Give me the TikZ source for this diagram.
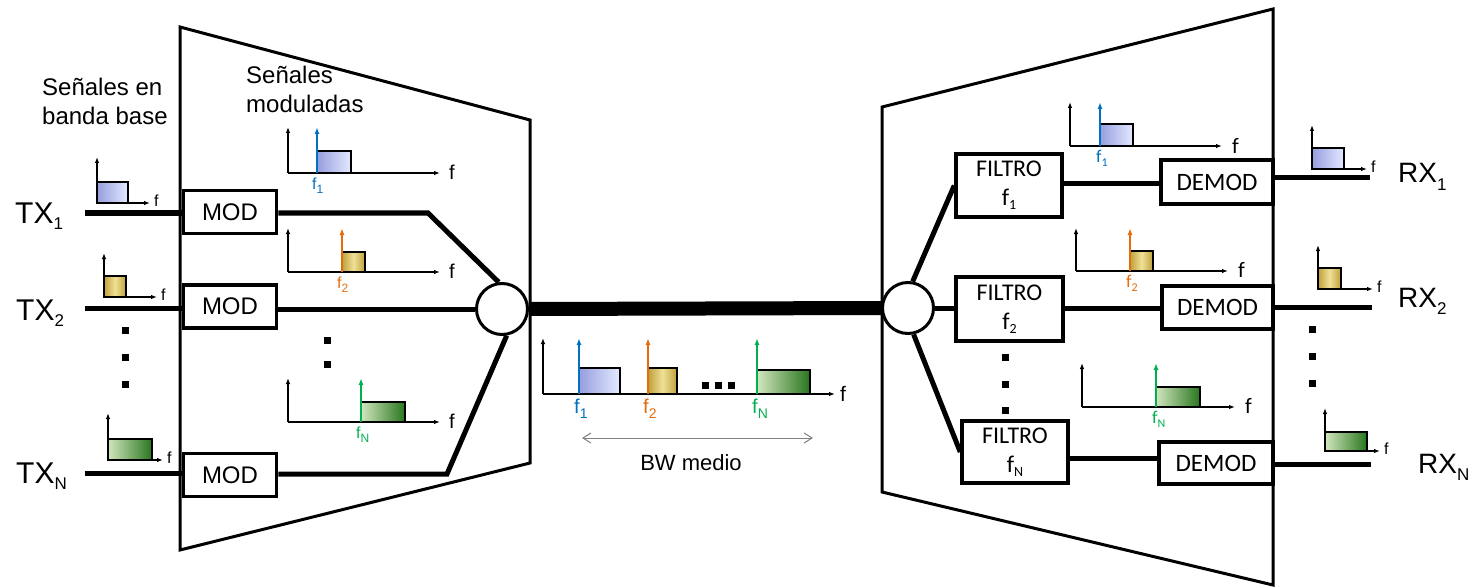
\documentclass[tikz,border=0pt]{standalone}
\usepackage{fontspec}
\setmainfont{Liberation Sans}
\newfontfamily\calibfont{Carlito}
\usetikzlibrary{arrows.meta}

\definecolor{cblue}{RGB}{0,112,192}
\definecolor{corange}{RGB}{228,108,10}
\definecolor{cgreen}{RGB}{0,176,80}
\definecolor{bblueL}{RGB}{150,158,222}
\definecolor{bblueR}{RGB}{228,234,255}
\definecolor{byelE}{RGB}{190,160,60}
\definecolor{byelM}{RGB}{240,224,150}
\definecolor{bgreenL}{RGB}{210,230,190}
\definecolor{bgreenR}{RGB}{40,118,30}

\newcommand\fs[1]{\fontsize{#1}{#1}\selectfont}
\newcommand\subx[3]{\raisebox{-#1pt}{\fontsize{#2}{#2}\selectfont #3}}
\newcommand\spec[8]{%
  \draw[axisln] (#1,#2) -- (#1,#3);
  \draw[axisln] (#1,#2) -- (#4,#2);
  \draw[#8] (#5,#2) rectangle (#6,#7);
}
\newcommand\sq[2]{\fill (#1-3.5,#2-3.5) rectangle (#1+3.5,#2+3.5);}

\tikzset{
  frame/.style={line width=3pt, line join=miter},
  conn/.style={line width=5pt},
  blk/.style={draw, line width=3.5pt, fill=white, inner sep=0, font=\fs{24}},
  rblk/.style={blk, font=\calibfont\fs{25}, align=center},
  junction/.style={draw, circle, line width=3pt, fill=white, minimum size=51pt, inner sep=0},
  axisln/.style={line width=1.3pt, -{Latex[length=6pt,width=4.5pt]}},
  sbox/.style={draw=black, line width=1.8pt},
  sblue/.style={sbox, left color=bblueL, right color=bblueR},
  syellow/.style={sbox, left color=byelE, right color=byelE, middle color=byelM},
  sgreen/.style={sbox, left color=bgreenL, right color=bgreenR},
  carrier/.style={line width=2.2pt, -{Latex[length=7pt,width=5pt]}},
  txl/.style={anchor=base west, inner sep=0, font=\fs{30}},
  rxl/.style={anchor=base west, inner sep=0, font=\fs{28}},
  note/.style={anchor=base west, inner sep=0, font=\fs{24}},
  flab/.style={anchor=west, inner sep=0, font=\fs{20}},
  fsmall/.style={anchor=west, inner sep=0, font=\fs{16}},
  fcar/.style={anchor=north west, inner sep=0, font=\fs{16}},
  fcarR/.style={anchor=north west, inner sep=0, font=\calibfont\fs{18}},
  flabR/.style={anchor=west, inner sep=0, font=\calibfont\fs{22}},
}

\begin{document}
\begin{tikzpicture}[x=1pt, y=-1pt]
\useasboundingbox (0,0) rectangle (1477,588);

% enclosures
\draw[frame] (180,27) -- (530,120) -- (530,463) -- (180,550) -- cycle;
\draw[frame] (882,107) -- (1273,9) -- (1273,585) -- (882,492) -- cycle;

% texts
\node[note] (t1) at (42,96) {Señales en};
\node[note] (t2) at (42,125) {banda base};
\node[note] (t3) at (246,84) {Señales};
\node[note] (t4) at (246,113) {moduladas};

\node[txl] (tx1) at (15,223) {TX\subx{6}{17}{1}};
\node[txl] (tx2) at (16,320) {TX\subx{6}{17}{2}};
\node[txl] (txn) at (16,483) {TX\subx{6}{17}{N}};

\node[rxl] (rx1) at (1398,183) {RX\subx{7}{17}{1}};
\node[rxl] (rx2) at (1398,307) {RX\subx{7}{17}{2}};
\node[rxl] (rxn) at (1418,473) {RX\subx{7}{17}{N}};

% blocks
\node[blk, minimum width=93pt, minimum height=43pt] (mod1) at (230,212) {MOD};
\node[blk, minimum width=93pt, minimum height=43pt] (mod2) at (230,306.5) {MOD};
\node[blk, minimum width=93pt, minimum height=43pt] (modn) at (230,475) {MOD};

\node[junction] (cl) at (502,309) {};
\node[junction] (cr) at (908,308) {};

\node[rblk, minimum width=106pt, minimum height=63pt, font=\calibfont\fs{24}] (fil1) at (1009,185.5)
  {FILTRO\\[5pt]f\subx{4}{14}{1}};
\node[rblk, minimum width=107pt, minimum height=64pt, font=\calibfont\fs{24}] (fil2) at (1009.5,309)
  {FILTRO\\[5pt]f\subx{4}{14}{2}};
\node[rblk, minimum width=106pt, minimum height=62pt, font=\calibfont\fs{24}] (filn) at (1015,452)
  {FILTRO\\[5pt]f\subx{4}{14}{N}};

\node[rblk, minimum width=112pt, minimum height=44pt] (dem1) at (1217,182) {DEMOD};
\node[rblk, minimum width=111pt, minimum height=43pt] (dem2) at (1217.5,307.5) {DEMOD};
\node[rblk, minimum width=114pt, minimum height=42pt] (demn) at (1216,463) {DEMOD};

% coordinates for connector ends and bends
\coordinate (tx1s) at (85,213);
\coordinate (tx2s) at (85,308);
\coordinate (txns) at (85,473);
\coordinate (b1) at (428,213);
\coordinate (bn) at (447,474);
\coordinate (rx1e) at (1370,178);
\coordinate (rx2e) at (1372,307);
\coordinate (rxne) at (1371,464);

% connectors
\draw[conn] (tx1s) -- (tx1s -| mod1.west);
\draw[conn] (tx2s) -- (tx2s -| mod2.west);
\draw[conn] (txns) -- (txns -| modn.west);
\draw[conn, line join=miter] (mod1.east |- b1) -- (b1) -- (cl.97);
\draw[conn] (mod2.east |- cl.west) -- (cl.west);
\draw[conn, line join=miter] (modn.east |- bn) -- (bn) -- (cl.-80);
\draw[line width=14pt] (cl.east) -- (cr.west);
\draw[conn] (cr.80) -- (fil1.west);
\draw[conn] (cr.east) -- (fil2.west |- cr.east);
\draw[conn] (cr.-78) -- (filn.west);
\draw[conn] (fil1.east |- 0,184) -- (dem1.west |- 0,184);
\draw[conn] (fil2.east |- cr.east) -- (dem2.west |- cr.east);
\draw[conn] (filn.east |- 0,458) -- (demn.west |- 0,458);
\draw[conn] (dem1.east |- rx1e) -- (rx1e);
\draw[conn] (dem2.east |- rx2e) -- (rx2e);
\draw[conn] (demn.east |- rxne) -- (rxne);

% dots
\sq{125}{330}\sq{125}{357}\sq{125}{384}
\sq{327}{340}\sq{327}{364}
\sq{1005}{357}\sq{1005}{384}\sq{1005}{410}
\sq{1312}{329}\sq{1312}{356}\sq{1312}{383}
\sq{705}{385}\sq{718}{385}\sq{731}{385}

% baseband spectra (TX)
\spec{97}{203}{157}{150}{97}{128}{182}{sblue}
\node[fsmall] (ftx1) at (154,201) {f};
\spec{104}{297}{253}{157}{104}{126}{276}{syellow}
\node[fsmall] (ftx2) at (161,295) {f};
\spec{108}{460}{413}{163}{108}{152}{439}{sgreen}
\node[fsmall] (ftxn) at (167,458) {f};

% modulated spectra (left)
\spec{288}{173}{127}{440}{317}{351}{151}{sblue}
\draw[carrier, cblue] (317,173) -- (317,127);
\node[flab] (fm1) at (449,172) {f};
\node[fcar, text=cblue] (fc1) at (312,178) {f\subx{4}{12}{1}};
\spec{288}{272}{228}{440}{342}{365}{252}{syellow}
\draw[carrier, corange] (342,272) -- (342,228);
\node[flab] (fm2) at (449,271) {f};
\node[fcar, text=corange] (fc2) at (337,277) {f\subx{4}{12}{2}};
\spec{288}{422}{378}{440}{361}{405}{402}{sgreen}
\draw[carrier, cgreen] (361,422) -- (361,378);
\node[flab] (fmn) at (449,421) {f};
\node[fcar, text=cgreen] (fcn) at (356,427) {f\subx{4}{12}{N}};

% medium spectrum
\spec{543}{394}{338}{835}{579}{620}{368}{sblue}
\draw[syellow] (648,394) rectangle (677,368);
\draw[sgreen] (757,394) rectangle (810,370);
\draw[carrier, cblue] (579,394) -- (579,338);
\draw[carrier, corange] (648,394) -- (648,338);
\draw[carrier, cgreen] (757,394) -- (757,338);
\node[flab, font=\fs{21}] (fmed) at (840,394) {f};
\node[fcar, font=\fs{20}, text=cblue] (fm1c) at (574,399) {f\subx{5}{14}{1}};
\node[fcar, font=\fs{20}, text=corange] (fm2c) at (643,399) {f\subx{5}{14}{2}};
\node[fcar, font=\fs{20}, text=cgreen] (fmnc) at (752,399) {f\subx{5}{14}{N}};
\coordinate (bwl) at (582,438);
\coordinate (bwr) at (813,438);
\draw[gray, line width=1pt, {Straight Barb[length=8pt,width=10pt]}-{Straight Barb[length=8pt,width=10pt]}] (bwl) -- (bwr);
\node[anchor=base, inner sep=0, font=\fs{22}] (bw) at (691,470) {BW medio};

% filtered spectra (right)
\spec{1070}{146}{102}{1222}{1100}{1133}{124}{sblue}
\draw[carrier, cblue] (1100,146) -- (1100,102);
\node[flabR] (fr1) at (1232,146) {f};
\node[fcarR, text=cblue] (frc1) at (1096,150) {f\subx{4}{12}{1}};
\spec{1076}{271}{228}{1228}{1130}{1153}{251}{syellow}
\draw[carrier, corange] (1130,271) -- (1130,228);
\node[flabR] (fr2) at (1238,270) {f};
\node[fcarR, text=corange] (frc2) at (1126,275) {f\subx{4}{12}{2}};
\spec{1082}{407}{363}{1235}{1156}{1200}{387}{sgreen}
\draw[carrier, cgreen] (1156,407) -- (1156,363);
\node[flabR] (frn) at (1245,406) {f};
\node[fcarR, text=cgreen] (frcn) at (1152,411) {f\subx{4}{12}{N}};

% received baseband spectra
\spec{1312}{169}{125}{1367}{1312}{1344}{148}{sblue}
\node[fsmall] (frx1) at (1371,167) {f};
\spec{1318}{289}{245}{1373}{1318}{1341}{268}{syellow}
\node[fsmall] (frx2) at (1377,287) {f};
\spec{1325}{451}{408}{1380}{1325}{1367}{432}{sgreen}
\node[fsmall] (frxn) at (1384,449) {f};
\end{tikzpicture}
\end{document}
